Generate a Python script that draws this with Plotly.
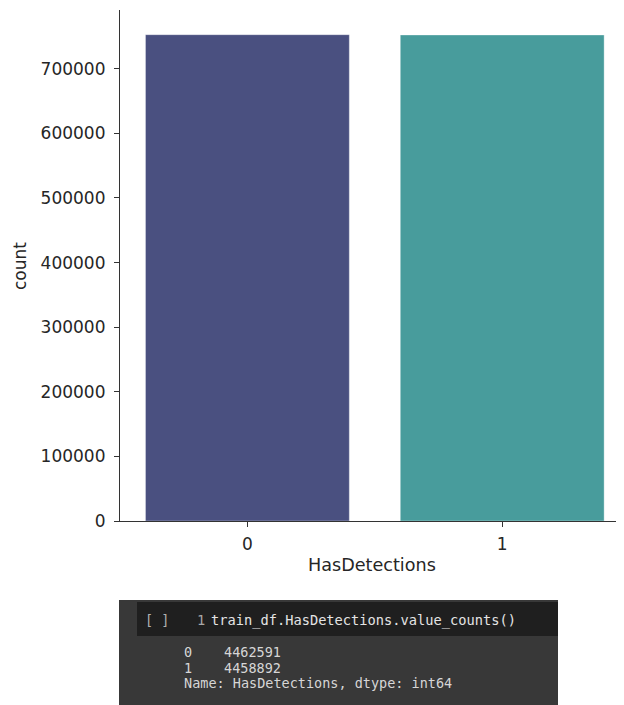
import plotly.graph_objects as go

# ---- data ----
categories = ["0", "1"]
counts = [752800, 752400]
bar_colors = ["#4a5080", "#489c9c"]
y_ticks = [0, 100000, 200000, 300000, 400000, 500000, 600000, 700000]
x_label = "HasDetections"
y_label = "count"

code_line_no = "1"
code_text = "train_df.HasDetections.value_counts()"
out_index = ["0", "1"]
out_values = ["4462591", "4458892"]
out_footer = "Name: HasDetections, dtype: int64"

# ---- geometry (pixels); page body adds an 8px offset ----
OFF = 8
W, H = 624 - OFF, 705 - OFF
L, R, T = 120 - OFF, 0, 10 - OFF
B = H - (521 - OFF)
PW, PH = W - L - R, H - T - B


def px(x):
    return (x - OFF - L) / PW


def py(y):
    return (H - B - (y - OFF)) / PH


fig = go.Figure()
fig.add_trace(go.Bar(
    x=[0, 1], y=counts, width=0.8,
    marker=dict(color=bar_colors, line=dict(color="rgba(255,255,255,0.35)", width=1)),
    showlegend=False,
))

axis_font = dict(family="DejaVu Sans", size=17, color="#262626")

fig.update_layout(
    width=W, height=H,
    margin=dict(l=L, r=R, t=T, b=B),
    paper_bgcolor="white", plot_bgcolor="white",
    font=dict(family="DejaVu Sans"),
    xaxis=dict(
        range=[-0.5, 1.478], tickvals=[0, 1], ticktext=categories,
        showgrid=False, zeroline=False, showline=True, linecolor="#333333", linewidth=1.2,
        ticks="outside", ticklen=5, tickcolor="#333333", tickwidth=1.2,
        tickfont=axis_font, ticklabelstandoff=2,
    ),
    yaxis=dict(
        range=[0, 791000], tickvals=y_ticks, ticktext=[str(v) for v in y_ticks],
        showgrid=False, zeroline=False, showline=True, linecolor="#333333", linewidth=1.2,
        ticks="outside", ticklen=5, tickcolor="#333333", tickwidth=1.2,
        tickfont=axis_font, ticklabelstandoff=5,
    ),
)

annotations = [
    dict(text=x_label, x=px(372), y=py(565), xref="paper", yref="paper",
         showarrow=False, xanchor="center", yanchor="middle",
         font=dict(family="DejaVu Sans", size=17.6, color="#262626")),
    dict(text=y_label, x=px(20), y=py(266), xref="paper", yref="paper", textangle=-90,
         showarrow=False, xanchor="center", yanchor="middle", font=axis_font),
]

mono = "DejaVu Sans Mono"
shapes = [
    dict(type="rect", xref="paper", yref="paper", x0=px(119), x1=px(558), y0=py(600), y1=py(705),
         fillcolor="#383838", line=dict(width=0), layer="below"),
    dict(type="rect", xref="paper", yref="paper", x0=px(137), x1=px(558), y0=py(602), y1=py(636),
         fillcolor="#1f1f1f", line=dict(width=0), layer="below"),
]


def txt(s, x, y, color, size=13.5):
    return dict(text=s, x=px(x), y=py(y), xref="paper", yref="paper", showarrow=False,
                xanchor="left", yanchor="middle", borderpad=0,
                font=dict(family=mono, size=size, color=color))


annotations += [
    txt("[ ]", 144, 620, "#b0b0b0"),
    txt(code_line_no, 196, 620, "#a8a8a8", 13.7),
    txt(code_text, 210, 620, "#e4e4e4", 13.7),
]
out_ys = [652, 667.5]
for idx, val, yy in zip(out_index, out_values, out_ys):
    annotations.append(txt(idx, 183, yy, "#d6d6d6"))
    annotations.append(txt(val, 223, yy, "#d6d6d6"))
annotations.append(txt(out_footer, 183, 683, "#d6d6d6"))

fig.update_layout(annotations=annotations, shapes=shapes)

fig.write_html("out.html")
